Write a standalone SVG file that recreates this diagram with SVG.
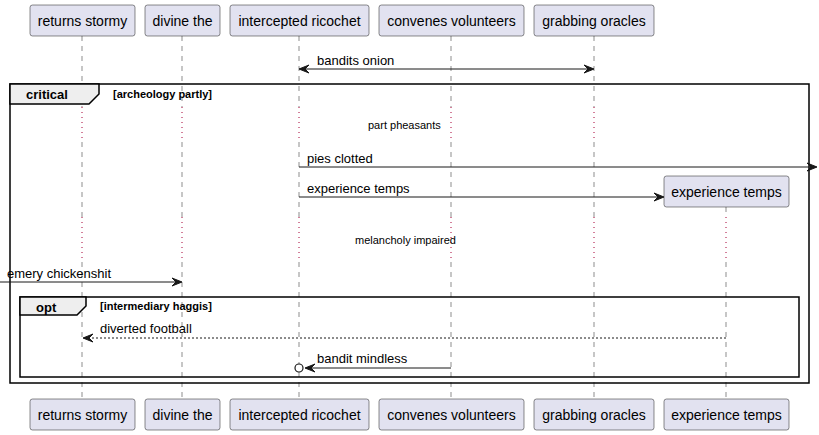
<svg xmlns="http://www.w3.org/2000/svg" width="819" height="435" viewBox="0 0 819 435">
<style>
.p{fill:#E2E2F0;stroke:#181818;stroke-width:0.5}
.pt{font-family:"Liberation Sans",Arial,sans-serif;font-size:14px;fill:#000;text-anchor:middle}
.ll{stroke:#181818;stroke-width:0.5;stroke-dasharray:5,5;fill:none}
.dl{stroke:#A80036;stroke-width:1;stroke-dasharray:1,4;fill:none}
.m{stroke:#181818;stroke-width:1;fill:none}
.md{stroke:#181818;stroke-width:1;fill:none;stroke-dasharray:2,2}
.ah{fill:#181818;stroke:#181818;stroke-width:1}
.mt{font-family:"Liberation Sans",Arial,sans-serif;font-size:13px;fill:#000}
.dt{font-family:"Liberation Sans",Arial,sans-serif;font-size:11px;fill:#000}
.fr{fill:none;stroke:#000;stroke-width:1.5}
.tab{fill:#EEEEEE;stroke:#000;stroke-width:1.5}
.ft{font-family:"Liberation Sans",Arial,sans-serif;font-size:13px;font-weight:bold;fill:#000}
.fl{font-family:"Liberation Sans",Arial,sans-serif;font-size:11px;font-weight:bold;fill:#000}
</style>
<g id="lifelines">
<path class="ll" d="M82,36 V107 M82,142 V217 M82,262 V399"/>
<path class="ll" d="M182,36 V107 M182,142 V217 M182,262 V399"/>
<path class="ll" d="M299,36 V107 M299,142 V217 M299,262 V399"/>
<path class="ll" d="M451,36 V107 M451,142 V217 M451,262 V399"/>
<path class="ll" d="M594,36 V107 M594,142 V217 M594,262 V399"/>
<path class="ll" d="M726,207 V217 M726,262 V399"/>
<path class="dl" d="M82,107 V142 M182,107 V142 M299,107 V142 M451,107 V142 M594,107 V142"/>
<path class="dl" d="M82,217 V262 M182,217 V262 M299,217 V262 M451,217 V262 M594,217 V262 M726,217 V262"/>
</g>
<g id="frame-critical">
<rect class="fr" x="10" y="84" width="799" height="299"/>
<path class="tab" d="M10,84 H99 V94 L89,104 H10 Z"/>
<text class="ft" x="26" y="99">critical</text>
<text class="fl" x="113" y="98">[archeology partly]</text>
</g>
<g id="frame-opt">
<rect class="fr" x="20" y="297" width="779" height="80"/>
<path class="tab" d="M20,297 H86 V306 L77,315 H20 Z"/>
<text class="ft" x="36" y="312">opt</text>
<text class="fl" x="100" y="310">[intermediary haggis]</text>
</g>
<g id="delays">
<text class="dt" x="368" y="129">part pheasants</text>
<text class="dt" x="355" y="244">melancholy impaired</text>
</g>
<g id="connectors">
<line class="m" x1="301" y1="69" x2="592" y2="69"/>
<path class="ah" d="M299,69 L309,65 L305,69 L309,73 Z"/>
<path class="ah" d="M594,69 L584,65 L588,69 L584,73 Z"/>
<text class="mt" x="317" y="65">bandits onion</text>

<line class="m" x1="299" y1="167" x2="815" y2="167"/>
<path class="ah" d="M817,167 L807,163 L811,167 L807,171 Z"/>
<text class="mt" x="307" y="163">pies clotted</text>

<line class="m" x1="299" y1="197" x2="662" y2="197"/>
<path class="ah" d="M664,197 L654,193 L658,197 L654,201 Z"/>
<text class="mt" x="307" y="193">experience temps</text>

<line class="m" x1="0" y1="282" x2="180" y2="282"/>
<path class="ah" d="M182,282 L172,278 L176,282 L172,286 Z"/>
<text class="mt" x="7" y="278">emery chickenshit</text>

<line class="md" x1="84" y1="338" x2="726" y2="338"/>
<path class="ah" d="M83,338 L93,334 L89,338 L93,342 Z"/>
<text class="mt" x="100" y="333">diverted football</text>

<line class="m" x1="306" y1="368" x2="451" y2="368"/>
<path class="ah" d="M305,368 L315,364 L311,368 L315,372 Z"/>
<circle cx="299" cy="368" r="4" fill="#fff" stroke="#181818" stroke-width="1.2"/>
<text class="mt" x="317" y="363">bandit mindless</text>
</g>
<g id="p-returns-stormy">
<rect class="p" x="30" y="5" width="105" height="31" rx="2.5"/>
<text class="pt" x="82.5" y="25.5">returns stormy</text>
<rect class="p" x="30" y="399" width="105" height="31" rx="2.5"/>
<text class="pt" x="82.5" y="419.5">returns stormy</text>
</g>
<g id="p-divine-the">
<rect class="p" x="145" y="5" width="75" height="31" rx="2.5"/>
<text class="pt" x="182.5" y="25.5">divine the</text>
<rect class="p" x="145" y="399" width="75" height="31" rx="2.5"/>
<text class="pt" x="182.5" y="419.5">divine the</text>
</g>
<g id="p-intercepted-ricochet">
<rect class="p" x="230" y="5" width="139" height="31" rx="2.5"/>
<text class="pt" x="299.5" y="25.5">intercepted ricochet</text>
<rect class="p" x="230" y="399" width="139" height="31" rx="2.5"/>
<text class="pt" x="299.5" y="419.5">intercepted ricochet</text>
</g>
<g id="p-convenes-volunteers">
<rect class="p" x="379" y="5" width="145" height="31" rx="2.5"/>
<text class="pt" x="451.5" y="25.5">convenes volunteers</text>
<rect class="p" x="379" y="399" width="145" height="31" rx="2.5"/>
<text class="pt" x="451.5" y="419.5">convenes volunteers</text>
</g>
<g id="p-grabbing-oracles">
<rect class="p" x="534" y="5" width="120" height="31" rx="2.5"/>
<text class="pt" x="594" y="25.5">grabbing oracles</text>
<rect class="p" x="534" y="399" width="120" height="31" rx="2.5"/>
<text class="pt" x="594" y="419.5">grabbing oracles</text>
</g>
<g id="p-experience-temps">
<rect class="p" x="664" y="176" width="125" height="31" rx="2.5"/>
<text class="pt" x="726.5" y="196.5">experience temps</text>
<rect class="p" x="664" y="399" width="125" height="31" rx="2.5"/>
<text class="pt" x="726.5" y="419.5">experience temps</text>
</g>
</svg>
